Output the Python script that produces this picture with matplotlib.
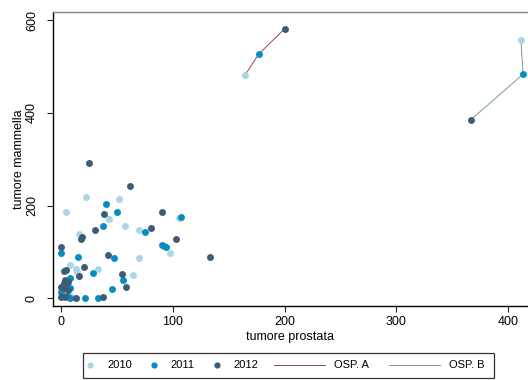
import matplotlib
matplotlib.use("Agg")
import matplotlib.pyplot as plt
from matplotlib.lines import Line2D
from matplotlib.patches import Rectangle

plt.rcParams["font.family"] = ["Liberation Sans", "DejaVu Sans"]

# scatter values per year (prostate cases vs breast cases)
x_2010 = [22, 52, 4.5, 105, 43, 57, 70, 16, 97, 70, 7.5, 13, 14, 33, 64.5, 5, 7, 2, 10]
y_2010 = [219, 214, 186, 173, 171, 155, 148, 138, 98, 86, 72, 63, 57, 63, 49.5, 28, 6, 10, 2]

x_2011 = [40, 107, 50, 37, 75, 90, 92, 94, 0, 47, 15, 28, 8, 55, 45, 8, 8, 21, 33, 0, 3, 5]
y_2011 = [203, 175, 186, 155, 142, 115, 113, 111, 98, 87, 89, 55, 44, 39, 19, 21, 1, 0, 1, 12, 35, 5]

x_2012 = [25, 61.5, 90, 38.5, 30, 80, 18, 18.5, 103, 133, 0, 42, 20, 2, 4, 16, 54.5, 58,
          37, 0, 3, 13, 3, 2, 6, 0, 3, 6]
y_2012 = [292, 243, 187, 182, 148, 151, 127, 131, 128, 89, 110, 93, 66, 59, 60, 48, 51, 24,
          3, 3, 3, 1, 39, 32, 35, 24, 21, 17]

# hospital totals 2010 -> 2011 -> 2012
osp_a_x = [164.5, 177, 200]
osp_a_y = [482, 528, 582]
osp_b_x = [411.5, 413.5, 366.5]
osp_b_y = [558, 484, 385]

years = ["2010", "2011", "2012"]
year_colors = ["#a9d6e7", "#0a8cc0", "#3e5b78"]
osp_colors = {"OSP. A": "#9c4652", "OSP. B": "#7c9999"}

fig = plt.figure(figsize=(5.28, 3.80), dpi=100)
ax = fig.add_axes([52.5 / 528, 1 - 305.7 / 380, 1 - 52.5 / 528, 294 / 380])

for name, xs, ys in [("OSP. A", osp_a_x, osp_a_y), ("OSP. B", osp_b_x, osp_b_y)]:
    ax.plot(xs, ys, color=osp_colors[name], lw=0.7, zorder=2)

year_x = [x_2010, x_2011, x_2012]
year_y = [y_2010, y_2011, y_2012]
for i, (xs, ys) in enumerate(zip(year_x, year_y)):
    ax.scatter(xs + [osp_a_x[i], osp_b_x[i]], ys + [osp_a_y[i], osp_b_y[i]],
               s=25, color=year_colors[i], linewidths=0, zorder=3)

ax.set_xlim(-7.9, 417.9)
ax.set_ylim(-16.6, 619)
ax.set_xticks([0, 100, 200, 300, 400])
ax.set_yticks([0, 200, 400, 600])

for side in ["left", "bottom"]:
    ax.spines[side].set_color("black")
    ax.spines[side].set_linewidth(1.0)
ax.spines["top"].set_color("#808080")
ax.spines["top"].set_linewidth(1.0)
ax.spines["right"].set_visible(False)

ax.tick_params(direction="out", length=4.5, width=0.8, color="#222222",
               labelsize=9, labelcolor="black")
ax.tick_params(axis="x", pad=3)
ax.tick_params(axis="y", pad=6)
for lab in ax.get_yticklabels():
    lab.set_rotation(90)
    lab.set_va("center")

ax.set_xlabel("tumore prostata", fontsize=9, labelpad=2)
ax.set_ylabel("tumore mammella", fontsize=9, labelpad=0.5)

# legend: years with short keys, hospitals with long line keys, one shared frame
year_handles = [Line2D([], [], ls="none", marker="o", ms=4.5, mew=0, color=c)
                for c in year_colors]
leg1 = fig.legend(year_handles, years, loc="center left", ncol=3,
                  bbox_to_anchor=((90 - 5.6) / 528, 1 - 365.4 / 380),
                  frameon=False, fontsize=8, handlelength=1.0, handletextpad=1.03,
                  columnspacing=1.48, borderpad=0, borderaxespad=0)
osp_handles = [Line2D([], [], color=c, lw=0.7) for c in osp_colors.values()]
leg2 = fig.legend(osp_handles, list(osp_colors.keys()), loc="center left", ncol=2,
                  bbox_to_anchor=(274 / 528, 1 - 365.4 / 380),
                  frameon=False, fontsize=8, handlelength=4.6, handletextpad=0.81,
                  columnspacing=1.8, borderpad=0, borderaxespad=0)
fig.add_artist(Rectangle((82.7 / 528, 1 - 378 / 380), (494 - 82.7) / 528, 25.3 / 380,
                         transform=fig.transFigure, fill=False,
                         edgecolor="#333333", lw=0.9))

fig.savefig("out.png", dpi=100, facecolor="white")
